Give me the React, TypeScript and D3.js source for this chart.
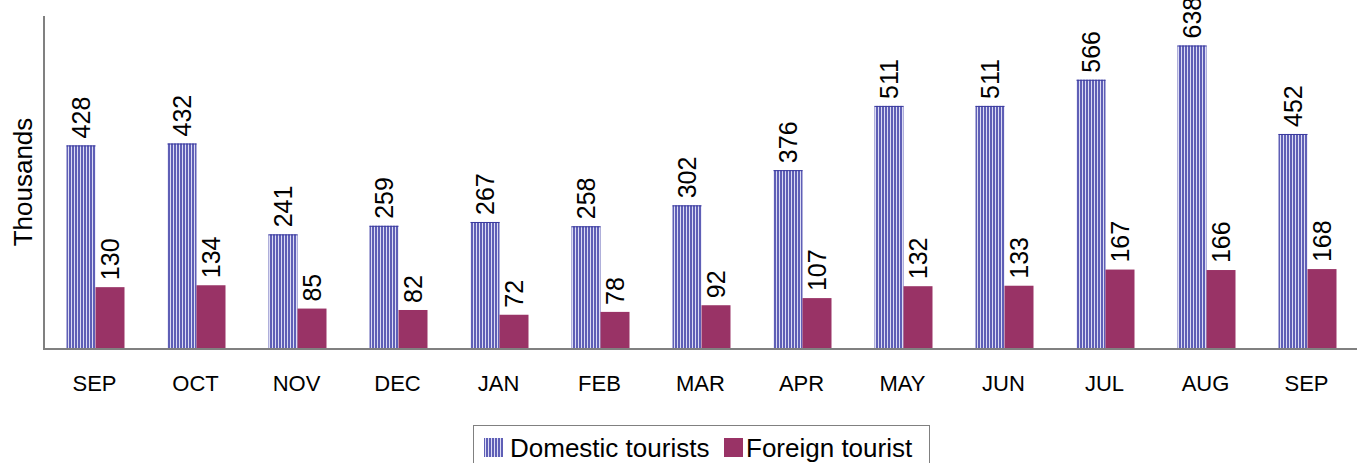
import React from "react";
import * as d3 from "d3";

const months = ["SEP", "OCT", "NOV", "DEC", "JAN", "FEB", "MAR", "APR", "MAY", "JUN", "JUL", "AUG", "SEP"];
const domestic = [428, 432, 241, 259, 267, 258, 302, 376, 511, 511, 566, 638, 452];
const foreign = [130, 134, 85, 82, 72, 78, 92, 107, 132, 133, 167, 166, 168];
const seriesNames = ["Domestic tourists", "Foreign tourist"];

const W = 1359;
const H = 463;
const left = 44;
const right = 1357;
const top = 16;
const bottom = 349;
const FONT = "'Liberation Sans', Arial, sans-serif";

export default function App() {
  const keys = months.map((m, i) => `${m}-${i}`);
  const x = d3.scaleBand<string>().domain(keys).range([left, right]).paddingInner(0).paddingOuter(0);
  const y = d3.scaleLinear().domain([0, 700]).range([bottom, top]);
  const barW = 29;
  const lblSize = 25;

  return (
    <svg width={W} height={H} style={{ position: "absolute", left: 0, top: 0 }}>
      <defs>
        <pattern id="stripes" patternUnits="userSpaceOnUse" width={3} height={10}>
          <rect x={0} y={0} width={3} height={10} fill="#dcdcf4" />
          <rect x={0} y={0} width={2} height={10} fill="#5f5fb6" />
        </pattern>
      </defs>
      <rect x={0} y={0} width={W} height={H} fill="#ffffff" />
      {keys.map((k, i) => {
        const cx = (x(k) as number) + x.bandwidth() / 2 + 1;
        const yd = y(domestic[i]);
        const yf = y(foreign[i]);
        return (
          <g key={k}>
            <rect x={cx - barW} y={yd} width={barW} height={bottom - yd} fill="url(#stripes)" />
            <rect x={cx - barW} y={yd} width={barW} height={1} fill="#3a3a9e" />
            <rect x={cx} y={yf} width={barW} height={bottom - yf} fill="#993366" />
            <text
              transform={`translate(${cx - barW / 2 + 9},${yd - 7}) rotate(-90)`}
              fontFamily={FONT}
              fontSize={lblSize}
              fill="#000"
            >
              {domestic[i]}
            </text>
            <text
              transform={`translate(${cx + barW / 2 + 9},${yf - 7}) rotate(-90)`}
              fontFamily={FONT}
              fontSize={lblSize}
              fill="#000"
            >
              {foreign[i]}
            </text>
            <text x={cx - 1} y={391} textAnchor="middle" fontFamily={FONT} fontSize={22} fill="#000">
              {months[i]}
            </text>
          </g>
        );
      })}
      <line x1={left} y1={top} x2={left} y2={bottom} stroke="#808080" strokeWidth={2} />
      <line x1={left - 1} y1={bottom} x2={right} y2={bottom} stroke="#808080" strokeWidth={2} />
      <text
        transform={`translate(32,182) rotate(-90)`}
        textAnchor="middle"
        fontFamily={FONT}
        fontSize={26}
        fill="#000"
      >
        Thousands
      </text>
      <g>
        <rect x={473.5} y={425.5} width={456} height={45} fill="#fff" stroke="#808080" strokeWidth={1} />
        <rect x={484} y={438} width={19} height={19} fill="url(#stripes)" />
        <text x={510} y={457} fontFamily={FONT} fontSize={26} fill="#000">
          {seriesNames[0]}
        </text>
        <rect x={724} y={438} width={19} height={19} fill="#993366" />
        <text x={746} y={457} fontFamily={FONT} fontSize={26} fill="#000">
          {seriesNames[1]}
        </text>
      </g>
    </svg>
  );
}
